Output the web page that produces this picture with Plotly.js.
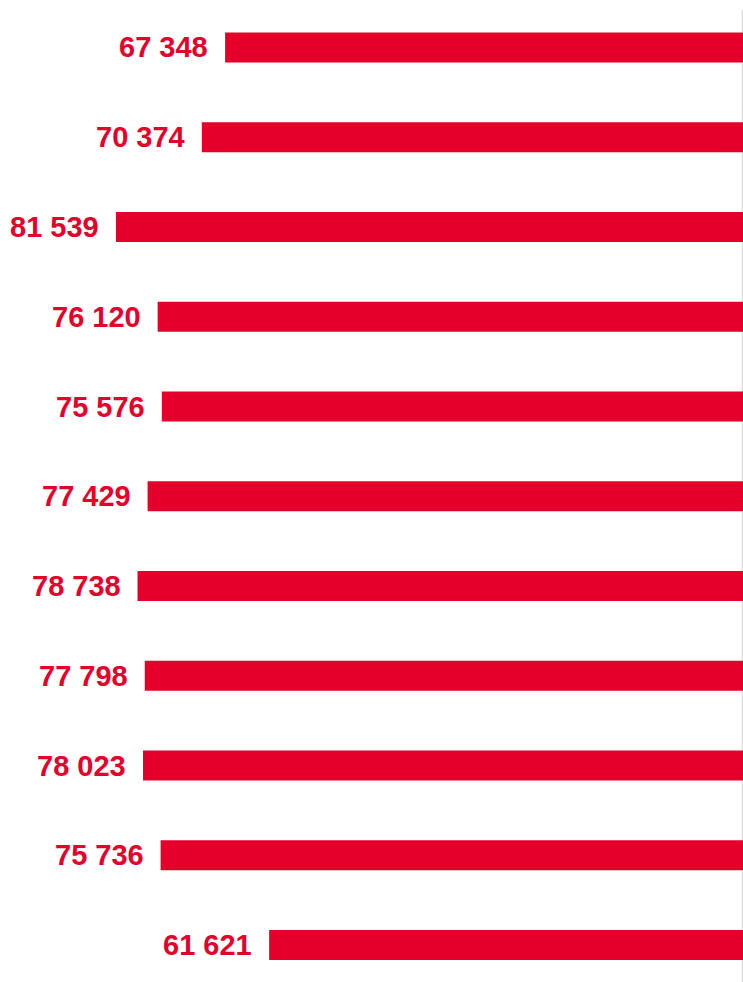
<!DOCTYPE html>
<html>
<head>
<meta charset="utf-8">
<script src="https://cdn.plot.ly/plotly-3.0.1.min.js"></script>
<style>html,body{margin:0;padding:0;background:#fff;}#chart{width:743px;height:982px;}</style>
</head>
<body>
<div id="chart"></div>
<script>
var categories = ["k01", "k02", "k03", "k04", "k05", "k06", "k07", "k08", "k09", "k10", "k11"];
var values = [67348, 70374, 81539, 76120, 75576, 77429, 78738, 77798, 78023, 75736, 61621];

var RED = "#E4002B";

function fmt(v) {
  return String(v).replace(/\B(?=(\d{3})+(?!\d))/g, " ");
}

var annotations = categories.map(function (c, i) {
  return {
    x: values[i], y: c, xref: "x", yref: "y",
    text: fmt(values[i]), showarrow: false,
    xanchor: "right", yanchor: "middle", xshift: -15,
    font: {family: "Arial, 'Liberation Sans', sans-serif", size: 29, color: RED, weight: "bold"}
  };
});

var trace = {
  type: "bar", orientation: "h",
  x: values, y: categories,
  marker: {color: RED, line: {width: 0}},
  width: 0.334,
  hoverinfo: "none"
};

var layout = {
  width: 743, height: 982,
  margin: {l: 0, r: 0, t: 0, b: 0, pad: 0},
  paper_bgcolor: "#fff", plot_bgcolor: "#fff",
  showlegend: false,
  xaxis: {range: [96620, 0], visible: false, fixedrange: true},
  yaxis: {type: "category", range: [10.412, -0.529], visible: false, fixedrange: true},
  annotations: annotations,
  shapes: [{
    type: "line", xref: "paper", yref: "paper", layer: "below",
    x0: 0.9993, x1: 0.9993, y0: 0, y1: 0.99,
    line: {color: "#dcdcdc", width: 1.5}
  }]
};

Plotly.newPlot("chart", [trace], layout, {displayModeBar: false, staticPlot: true});
</script>
</body>
</html>
